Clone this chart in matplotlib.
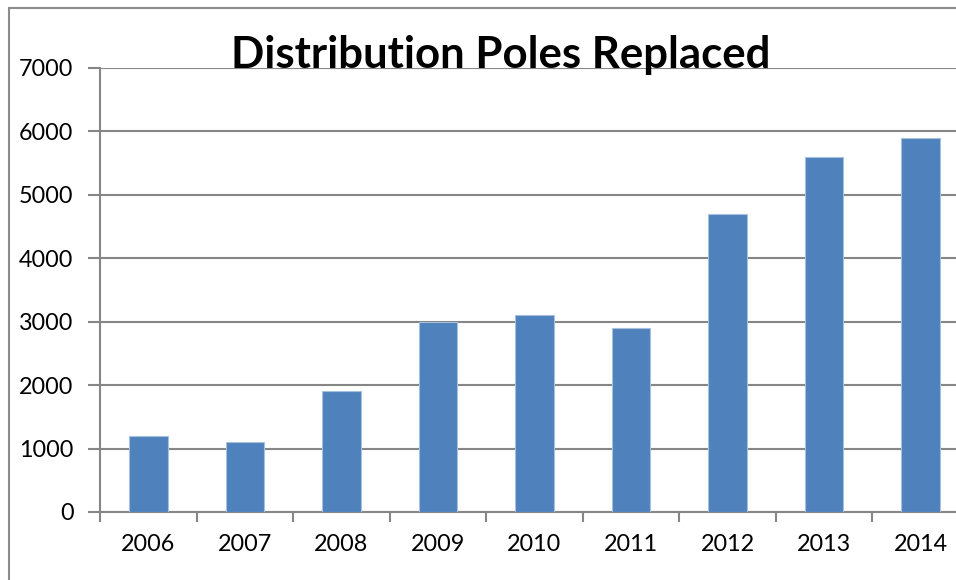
import matplotlib.pyplot as plt
import numpy as np
from matplotlib.patches import Rectangle

years = ['2006', '2007', '2008', '2009', '2010', '2011', '2012', '2013', '2014']
poles = [1200, 1100, 1900, 3000, 3100, 2900, 4700, 5600, 5900]

plt.rcParams['font.family'] = ['Lato', 'DejaVu Sans']

W, H = 956, 580
fig = plt.figure(figsize=(W / 100, H / 100), dpi=100)

# outer chart border (right/bottom fall outside the picture)
fig.patches.append(Rectangle((9 / W, -0.1), 1.2, 1 - 8 / H + 0.1,
                             transform=fig.transFigure, fill=False,
                             edgecolor='#8c8c8c', linewidth=1.5))

left, right = 100 / W, 969 / W
bottom, top = (H - 512) / H, (H - 68) / H
ax = fig.add_axes([left, bottom, right - left, top - bottom])

ind = np.arange(len(years))
ax.bar(ind, poles, width=0.4, color='#4F81BD', edgecolor='#A7C0DE',
       linewidth=0.8, zorder=3)

ax.set_xlim(-0.5, len(years) - 0.5)
ax.set_ylim(0, 7000)
ax.set_yticks(np.arange(0, 7001, 1000))
ax.yaxis.grid(True, color='#868686', linewidth=1.5, zorder=0)

ax.set_xticks(np.arange(-0.5, len(years), 1.0))
ax.set_xticklabels([])
ax.set_xticks(ind, minor=True)
ax.set_xticklabels(years, minor=True)
ax.tick_params(axis='x', which='major', length=7, width=1.5, color='#868686', direction='out')
ax.tick_params(axis='x', which='minor', length=0, pad=16, labelsize=16.8)
ax.tick_params(axis='y', length=9, width=1.5, color='#868686', pad=10, labelsize=16.8)

for s in ['top', 'right']:
    ax.spines[s].set_visible(False)
for s in ['left', 'bottom']:
    ax.spines[s].set_color('#868686')
    ax.spines[s].set_linewidth(1.5)

fig.text(501 / W, (H - 68) / H, 'Distribution Poles Replaced', ha='center',
         va='baseline', fontsize=31.5, fontweight='bold')

plt.savefig('out.png', dpi=100)
